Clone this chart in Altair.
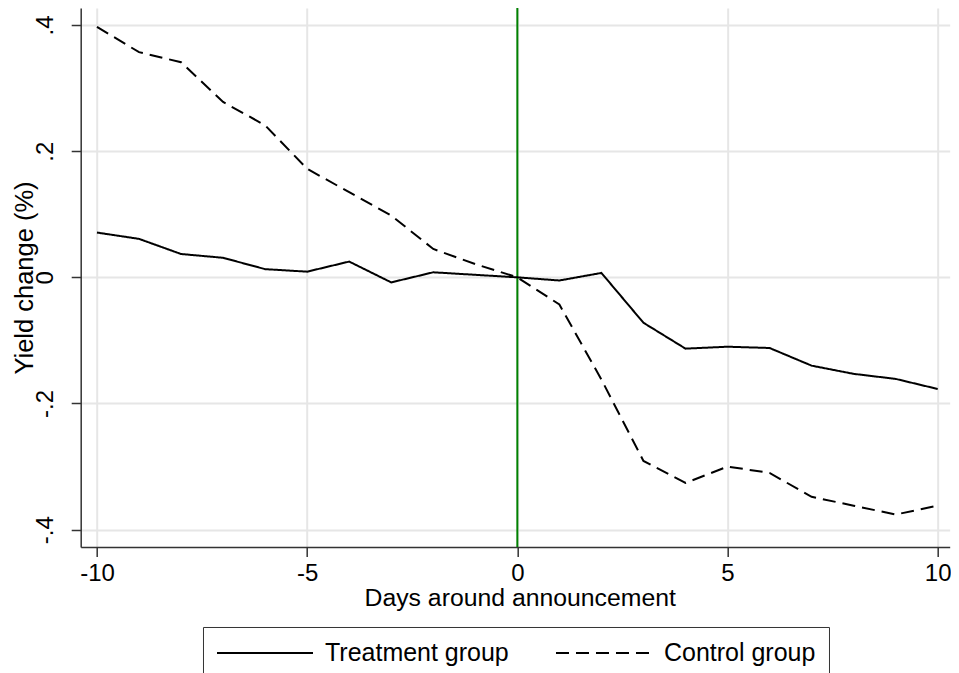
import altair as alt
import pandas as pd

days = list(range(-10, 11))
treatment = [0.071, 0.061, 0.037, 0.031, 0.013, 0.009, 0.025, -0.008, 0.008, 0.004, 0.0,
             -0.005, 0.007, -0.072, -0.113, -0.110, -0.112, -0.140, -0.153, -0.161, -0.177]
control = [0.397, 0.357, 0.341, 0.278, 0.241, 0.172, 0.135, 0.098, 0.045, 0.021, 0.0,
           -0.043, -0.162, -0.291, -0.326, -0.300, -0.310, -0.348, -0.362, -0.376, -0.362]
groups = ["Treatment group", "Control group"]
x_ticks = [-10, -5, 0, 5, 10]
y_ticks = [-0.4, -0.2, 0, 0.2, 0.4]
event_day = [0]

rows = []
for g, series in zip(groups, [treatment, control]):
    for d, v in zip(days, series):
        rows.append({"day": d, "value": v, "group": g})
df = pd.DataFrame(rows)
rule_df = pd.DataFrame({"day": event_day})

FONT = "Liberation Sans"

x_enc = alt.X(
    "day:Q",
    scale=alt.Scale(domain=[-10.387, 10.285], nice=False, zero=False),
    axis=alt.Axis(
        values=x_ticks, title="Days around announcement", labelExpr="datum.value",
        titleX=439, titleY=58.5, titleBaseline="alphabetic", labelPadding=5,
        titleFontSize=24.8,
    ),
)
y_enc = alt.Y(
    "value:Q",
    scale=alt.Scale(domain=[-0.4275, 0.427], nice=False, zero=False),
    axis=alt.Axis(
        values=y_ticks, title="Yield change (%)",
        labelExpr="datum.value == 0 ? '0' : replace(toString(datum.value), '0.', '.')",
        labelAngle=270, labelAlign="center", labelBaseline="alphabetic", labelPadding=18.7,
        titleX=-48, titleBaseline="alphabetic", titleFontSize=25.5,
    ),
)

rule = alt.Chart(rule_df).mark_rule(color="#008000", strokeWidth=2).encode(x=x_enc)

lines = alt.Chart(df).mark_line(color="black", strokeWidth=2).encode(
    x=x_enc,
    y=y_enc,
    strokeDash=alt.StrokeDash(
        "group:N",
        scale=alt.Scale(domain=groups, range=[[1, 0], [13, 7]]),
        sort=groups,
        legend=alt.Legend(
            orient="none", legendX=122.3, legendY=619, direction="horizontal",
            title=None, symbolType="M-4,0H4", symbolSize=576, symbolOffset=36,
            symbolStrokeWidth=2, symbolStrokeColor="black",
            labelFontSize=25, labelFont=FONT, labelColor="black",
            labelOffset=47, columnPadding=43, padding=13, strokeColor="#333",
            labelLimit=400,
        ),
    ),
)

chart = alt.layer(rule, lines).properties(
    width=869, height=539,
    autosize=alt.AutoSizeParams(type="none"),
    padding={"left": 72.7, "top": 0, "right": 1, "bottom": 140},
    background="white",
).configure_view(stroke=None).configure_axis(
    labelFont=FONT, titleFont=FONT, labelFontSize=24, titleFontSize=24,
    labelColor="black", titleColor="black", titleFontWeight="normal",
    domainColor="#333", domainWidth=1.5, tickColor="#333", tickWidth=1.5, tickSize=9.5,
    gridColor="#e6e6e6", gridWidth=2, grid=True,
)

chart.save("out.html", embed_options={"renderer": "svg", "actions": False})
